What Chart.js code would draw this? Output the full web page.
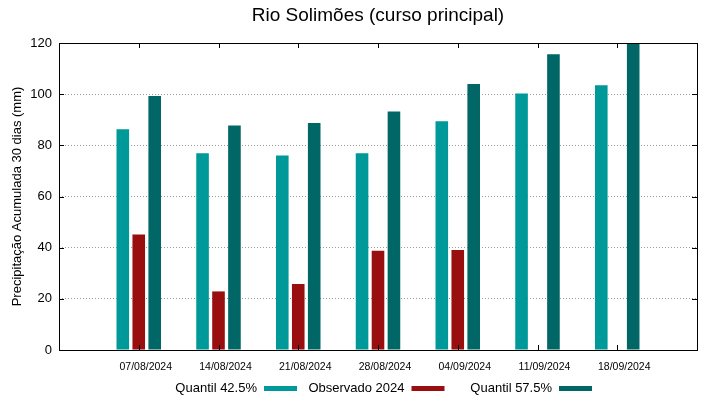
<!DOCTYPE html>
<html>
<head>
<meta charset="utf-8">
<script src="https://cdn.jsdelivr.net/npm/chart.js@4"></script>
<style>
  html, body { margin: 0; padding: 0; background: #fff; }
  #wrap { width: 719px; height: 399px; }
</style>
</head>
<body>
<div id="wrap"><canvas id="chart" width="719" height="399"></canvas></div>
<script>
// semanas (rótulos vazios nas pontas para dar a margem do gnuplot)
const weeks = ['', '07/08/2024', '14/08/2024', '21/08/2024', '28/08/2024', '04/09/2024', '11/09/2024', '18/09/2024', ''];
const quantil425 = [null, 86.3, 76.9, 76.0, 76.9, 89.4, 100.3, 103.5, null];
const observado2024 = [null, 45.1, 22.9, 25.8, 38.8, 39.1, null, null, null];
const quantil575 = [null, 99.3, 87.8, 88.7, 93.2, 104.0, 115.6, 121.0, null];
const yTicks = [0, 20, 40, 60, 80, 100, 120];

const seriesNames = ['Quantil 42.5%', 'Observado 2024', 'Quantil 57.5%'];
const seriesColors = ['#009999', '#990f0f', '#006666'];
const chartTitle = 'Rio Solimões (curso principal)';

const FONT = 'Liberation Sans, Arial, sans-serif';

// caixa + marcas para dentro nos 4 lados (estilo gnuplot) + título centrado no gráfico
const frameTicks = {
    id: 'frameTicks',
    afterDatasetsDraw(chart) {
        const { ctx, chartArea: a, scales } = chart;
        const len = 5;
        ctx.save();
        ctx.strokeStyle = '#000';
        ctx.lineWidth = 1;
        ctx.beginPath();
        yTicks.forEach(v => {
            const y = Math.round(scales.y.getPixelForValue(v)) + 0.5;
            ctx.moveTo(a.left, y); ctx.lineTo(a.left + len, y);
            ctx.moveTo(a.right, y); ctx.lineTo(a.right - len, y);
        });
        weeks.forEach((w, i) => {
            if (!w) return;
            const x = Math.round(scales.x.getPixelForValue(i)) + 0.5;
            ctx.moveTo(x, a.bottom); ctx.lineTo(x, a.bottom - len);
            ctx.moveTo(x, a.top); ctx.lineTo(x, a.top + len);
        });
        ctx.stroke();
        ctx.strokeRect(Math.round(a.left) + 0.5, Math.round(a.top) + 0.5,
            Math.round(a.right - a.left), Math.round(a.bottom - a.top));

        ctx.fillStyle = '#000';
        ctx.font = '19px ' + FONT;
        ctx.textAlign = 'center';
        ctx.textBaseline = 'middle';
        ctx.fillText(chartTitle, (a.left + a.right) / 2, 16);
        ctx.restore();
    }
};

// legenda embaixo: texto primeiro, amostra depois
const gnuLegend = {
    id: 'gnuLegend',
    afterDraw(chart) {
        const { ctx } = chart;
        const y = 388;
        ctx.save();
        ctx.font = '13px ' + FONT;
        ctx.textAlign = 'right';
        ctx.textBaseline = 'middle';
        chart.data.datasets.forEach((ds, i) => {
            const sx = 264 + i * 147.5;
            ctx.fillStyle = '#000';
            ctx.fillText(ds.label, sx - 7, y);
            ctx.fillStyle = ds.backgroundColor;
            ctx.fillRect(sx, y - 2, 33, 5);
        });
        ctx.restore();
    }
};

new Chart(document.getElementById('chart'), {
    type: 'bar',
    data: {
        labels: weeks,
        datasets: [quantil425, observado2024, quantil575].map((d, i) => ({
            label: seriesNames[i],
            data: d,
            backgroundColor: seriesColors[i],
            borderWidth: 0,
            categoryPercentage: 0.6,
            barPercentage: 0.79
        }))
    },
    options: {
        responsive: false,
        animation: false,
        layout: { padding: { left: 0, right: 22, top: 43, bottom: 0 } },
        plugins: {
            legend: { display: false },
            tooltip: { enabled: false },
            title: { display: false }
        },
        scales: {
            x: {
                offset: false,
                grid: { display: false, drawTicks: false, offset: false },
                border: { display: false },
                ticks: {
                    autoSkip: false, maxRotation: 0, padding: 11, labelOffset: 7,
                    color: '#000', font: { family: FONT, size: 10.5 }
                },
                afterFit(s) { s.height = 49; s.paddingLeft = 0; s.paddingRight = 0; }
            },
            y: {
                min: 0, max: 120,
                afterBuildTicks(s) { s.ticks = yTicks.map(v => ({ value: v })); },
                grid: { color: '#9a9a9a', lineWidth: 1, drawTicks: false },
                border: { display: false, dash: [1, 2] },
                ticks: { padding: 7, color: '#000', font: { family: FONT, size: 13 } },
                title: {
                    display: true,
                    text: 'Precipitação Acumulada 30 dias (mm)',
                    color: '#000',
                    font: { family: FONT, size: 13 },
                    padding: { top: 10, bottom: 0 }
                },
                afterFit(s) { s.width = 59; }
            }
        }
    },
    plugins: [frameTicks, gnuLegend]
});
</script>
</body>
</html>
